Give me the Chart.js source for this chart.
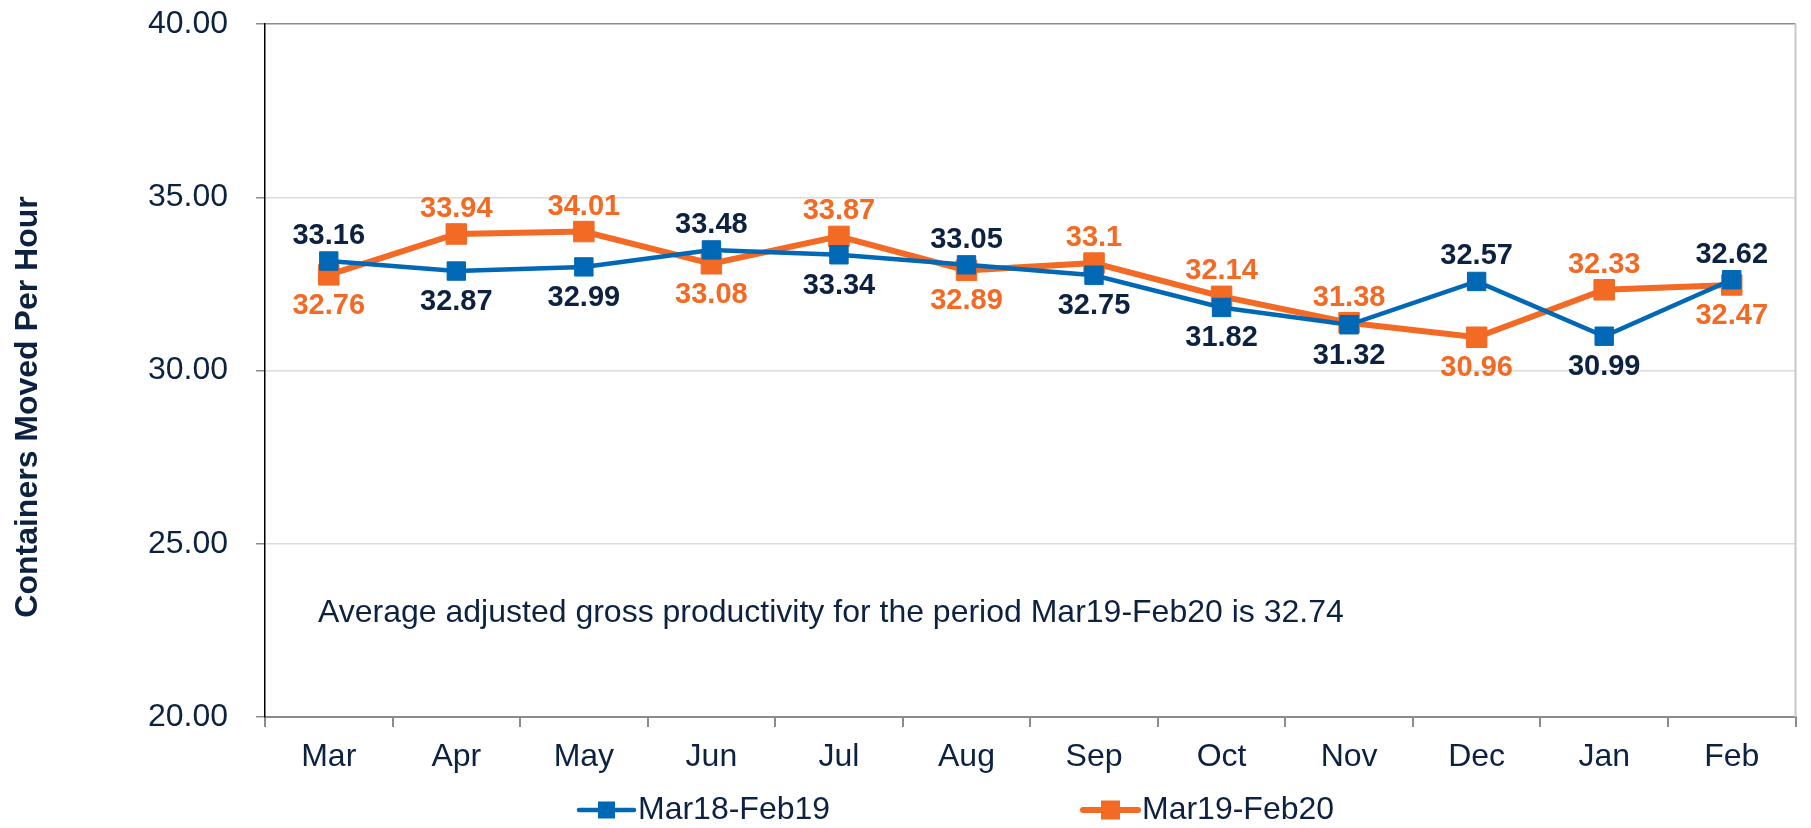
<!DOCTYPE html>
<html>
<head>
<meta charset="utf-8">
<title>Containers Moved Per Hour</title>
<script src="https://cdn.jsdelivr.net/npm/chart.js@4/dist/chart.umd.min.js"></script>
<style>
  html, body { margin: 0; padding: 0; background: #ffffff; }
  canvas { display: block; }
</style>
</head>
<body>
<canvas id="grafico" width="1811" height="828"></canvas>
<script>
// Datos del gráfico
const months = ['Mar', 'Apr', 'May', 'Jun', 'Jul', 'Aug', 'Sep', 'Oct', 'Nov', 'Dec', 'Jan', 'Feb'];
const seriesNames = ['Mar18-Feb19', 'Mar19-Feb20'];
const prevYear = [33.16, 32.87, 32.99, 33.48, 33.34, 33.05, 32.75, 31.82, 31.32, 32.57, 30.99, 32.62];
const currYear = [32.76, 33.94, 34.01, 33.08, 33.87, 32.89, 33.1, 32.14, 31.38, 30.96, 32.33, 32.47];
const yTicks = [20, 25, 30, 35, 40];
const yTitle = 'Containers Moved Per Hour';
const note = 'Average adjusted gross productivity for the period Mar19-Feb20 is 32.74';

const NAVY = '#0d2240';
const BLUE = '#0068b5';
const ORANGE = '#f26a24';
const FONT = "'Liberation Sans', Arial, sans-serif";

const lineColors = [BLUE, ORANGE];
const labelColors = [NAVY, ORANGE];
const lineWidths = [4.5, 6];
const markerRadius = [13, 14.5];

// Etiquetas de valores, texto de nota, título del eje y leyenda
const extrasPlugin = {
  id: 'extras',
  afterDatasetsDraw(chart) {
    const ctx = chart.ctx;
    const area = chart.chartArea;
    ctx.save();

    // borde derecho
    ctx.strokeStyle = '#c8c8c8';
    ctx.lineWidth = 2;
    ctx.beginPath();
    ctx.moveTo(area.right, area.top);
    ctx.lineTo(area.right, area.bottom);
    ctx.stroke();

    // valores encima / debajo de cada punto
    const sets = chart.data.datasets;
    ctx.font = 'bold 29px ' + FONT;
    ctx.textAlign = 'center';
    ctx.textBaseline = 'middle';
    sets.forEach((ds, i) => {
      const meta = chart.getDatasetMeta(i);
      const other = sets[1 - i].data;
      meta.data.forEach((pt, j) => {
        const v = ds.data[j];
        const above = v >= other[j];
        ctx.fillStyle = labelColors[i];
        ctx.fillText(String(v), pt.x, above ? pt.y - 25 : pt.y + 31);
      });
    });

    // nota
    ctx.font = '32px ' + FONT;
    ctx.fillStyle = NAVY;
    ctx.textAlign = 'left';
    ctx.fillText(note, area.left + 53, 613);

    // título del eje Y
    ctx.save();
    ctx.translate(28, 407);
    ctx.rotate(-Math.PI / 2);
    ctx.font = 'bold 32px ' + FONT;
    ctx.textAlign = 'center';
    ctx.fillText(yTitle, 0, 0);
    ctx.restore();

    // leyenda
    const legendX = [579, 1083];
    const legendY = 810;
    seriesNames.forEach((name, i) => {
      const x = legendX[i];
      ctx.strokeStyle = lineColors[i];
      ctx.lineWidth = lineWidths[i];
      ctx.lineCap = 'round';
      ctx.beginPath();
      ctx.moveTo(x, legendY);
      ctx.lineTo(x + 55, legendY);
      ctx.stroke();
      const s = i === 0 ? 17 : 19;
      ctx.fillStyle = lineColors[i];
      ctx.fillRect(x + 27.5 - s / 2, legendY - s / 2, s, s);
      ctx.font = '32px ' + FONT;
      ctx.fillStyle = NAVY;
      ctx.textAlign = 'left';
      ctx.textBaseline = 'middle';
      ctx.fillText(name, x + 59, legendY);
    });

    ctx.restore();
  }
};

function crearGrafico() {
  const ctx = document.getElementById('grafico').getContext('2d');
  new Chart(ctx, {
    type: 'line',
    data: {
      labels: months,
      datasets: [prevYear, currYear].map((serie, i) => ({
        label: seriesNames[i],
        data: serie,
        borderColor: lineColors[i],
        backgroundColor: lineColors[i],
        borderWidth: lineWidths[i],
        pointStyle: 'rect',
        pointRadius: markerRadius[i],
        pointBorderWidth: 1,
        pointBorderColor: lineColors[i],
        pointBackgroundColor: lineColors[i],
        tension: 0,
        fill: false
      }))
    },
    options: {
      responsive: false,
      animation: false,
      devicePixelRatio: 1,
      layout: { padding: { left: 0, right: 7, top: 24, bottom: 0 } },
      plugins: {
        legend: { display: false },
        tooltip: { enabled: false }
      },
      scales: {
        x: {
          offset: true,
          afterFit: scale => { scale.height = 111; },
          grid: {
            offset: true,
            drawOnChartArea: false,
            drawTicks: true,
            tickLength: 10,
            tickColor: '#8c8c8c',
            lineWidth: 2
          },
          border: { color: '#8c8c8c', width: 2 },
          ticks: {
            color: NAVY,
            padding: 11,
            font: { family: FONT, size: 32 },
            maxRotation: 0
          }
        },
        y: {
          min: yTicks[0],
          max: yTicks[yTicks.length - 1],
          afterFit: scale => {
            scale.width = 265;
            scale.paddingTop = 0;
            scale.paddingBottom = 0;
          },
          afterBuildTicks: scale => { scale.ticks = yTicks.map(v => ({ value: v })); },
          grid: {
            color: c => (c.tick && c.tick.value === 40 ? '#8c8c8c' : '#dcdcdc'),
            lineWidth: 1.5,
            tickLength: 9,
            tickColor: '#8c8c8c'
          },
          border: { color: '#000000', width: 1.5 },
          ticks: {
            color: NAVY,
            padding: 28,
            font: { family: FONT, size: 32 },
            callback: v => Number(v).toFixed(2)
          }
        }
      }
    },
    plugins: [extrasPlugin]
  });
}

document.addEventListener('DOMContentLoaded', crearGrafico);
</script>
</body>
</html>
